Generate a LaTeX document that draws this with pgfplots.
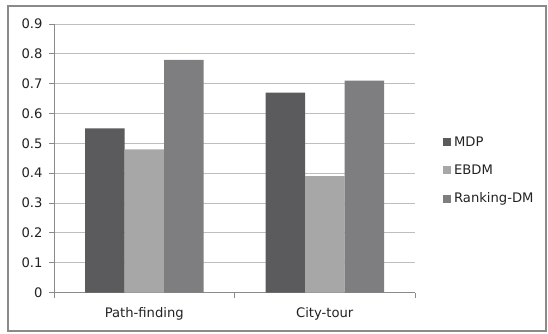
\documentclass[border=0pt]{standalone}
\usepackage{pgfplots}
\pgfplotsset{compat=1.18}
\usepackage{fontspec}
\setmainfont{DejaVu Sans}
\definecolor{cMDP}{HTML}{5B5B5D}
\definecolor{cEBDM}{HTML}{A7A7A7}
\definecolor{cRank}{HTML}{7E7E80}
\definecolor{gridc}{HTML}{BEBEBE}
\definecolor{framec}{HTML}{8A8A8A}
\definecolor{txt}{HTML}{222222}
\begin{document}
\begin{tikzpicture}
\begin{axis}[
  name=ax,
  scale only axis,
  width=361bp, height=268.5bp,
  ymin=0, ymax=0.9,
  xmin=-0.5, xmax=1.5,
  ybar=0pt, bar width=39.5bp,
  ytick={0,0.1,...,0.9},
  yticklabel style={/pgf/number format/fixed,/pgf/number format/precision=1},
  /pgf/number format/assume math mode=true,
  xtick={0,1},
  xticklabels={Path-finding,City-tour},
  minor xtick={-0.5,0.5,1.5},
  major x tick style={draw=none},
  minor x tick style={draw=framec, line width=0.8bp},
  major y tick style={draw=framec, line width=0.8bp},
  tick align=outside,
  major tick length=5bp, minor tick length=5bp,
  axis x line*=bottom, axis y line*=left,
  axis line style={draw=framec, line width=0.8bp, -},
  ymajorgrids,
  grid style={draw=gridc, line width=0.8bp},
  tick label style={font=\fontsize{13.2}{15}\selectfont, text=txt},
  xticklabel style={yshift=-6bp},
  yticklabel style={xshift=-3bp},
  legend style={at={(1.069,0.454)}, anchor=west, draw=none, fill=none,
    font=\fontsize{13.2}{15}\selectfont, text=txt, row sep=13bp,
    nodes={inner xsep=3bp}},
  legend cell align=left,
  legend image code/.code={\fill[#1,draw=none] (0bp,-4bp) rectangle (8bp,4bp);},
]
\addplot[fill=cMDP, draw=none] coordinates {(0,0.55) (1,0.67)};
\addplot[fill=cEBDM, draw=none] coordinates {(0,0.48) (1,0.39)};
\addplot[fill=cRank, draw=none] coordinates {(0,0.78) (1,0.71)};
\legend{MDP,EBDM,Ranking-DM}
\end{axis}
\draw[framec, line width=2bp] (ax.south west) ++(-46bp,-38.5bp) rectangle ++(538bp,325bp);
\pgfresetboundingbox
\path[use as bounding box] (ax.south west) ++(-54bp,-41.5bp) rectangle ++(548bp,334bp);
\end{tikzpicture}
\end{document}
